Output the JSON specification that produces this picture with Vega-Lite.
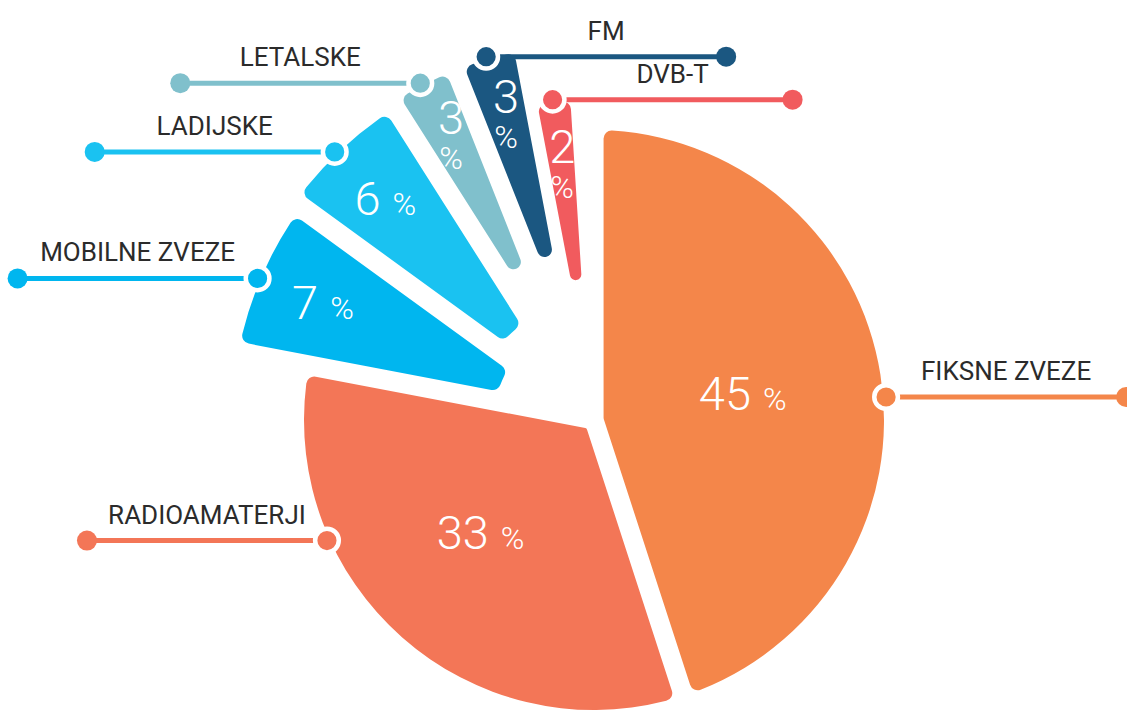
{
  "$schema": "https://vega.github.io/schema/vega-lite/v6.json",
  "width": 1000,
  "height": 560,
  "autosize": {"type": "none"},
  "padding": {"left": 94, "top": 140, "right": 33, "bottom": 11},
  "background": "white",
  "config": {"view": {"stroke": null}},
  "data": {
    "values": [
      {"category": "FIKSNE ZVEZE", "value": 45},
      {"category": "RADIOAMATERJI", "value": 33},
      {"category": "MOBILNE ZVEZE", "value": 7},
      {"category": "LADIJSKE", "value": 6},
      {"category": "LETALSKE", "value": 3},
      {"category": "FM", "value": 3},
      {"category": "DVB-T", "value": 2}
    ]
  },
  "transform": [
    {"stack": "value", "groupby": [], "sort": [{"field": "value", "order": "descending"}, {"field": "category", "order": "descending"}], "as": ["v0", "v1"]},
    {"calculate": "(datum.v0 + datum.v1)/2", "as": "vm"}
  ],
  "layer": [
    {
      "mark": {
        "type": "arc",
        "cornerRadius": 8,
        "padAngle": {"expr": "datum.value >= 33 ? 0.066 : datum.value >= 6 ? 0.055 : datum.value >= 3 ? 0.045 : 0.02"},
        "radius2": {"expr": "datum.value >= 45 ? 9.8 : datum.value >= 33 ? 11.5 : datum.value >= 7 ? 100 : datum.value >= 6 ? 120 : datum.value >= 3 ? 170 : 141"}
      },
      "encoding": {
        "theta": {"field": "v0", "type": "quantitative", "scale": {"domain": [0, 100], "zero": true, "nice": false}},
        "theta2": {"field": "v1"},
        "radius": {"field": "value", "type": "quantitative", "scale": {"type": "linear", "domain": [2, 3, 6, 7, 33, 45], "range": [320, 376, 370, 362, 290, 290], "zero": false, "nice": false}},
        "color": {"field": "category", "type": "nominal", "legend": null, "scale": {"domain": ["FIKSNE ZVEZE", "RADIOAMATERJI", "MOBILNE ZVEZE", "LADIJSKE", "LETALSKE", "FM", "DVB-T"], "range": ["#F4864A", "#F37657", "#00B6EF", "#1AC2F1", "#80C0CC", "#1B5781", "#F15B5E"]}}
      }
    },
    {
      "mark": {
        "type": "text",
        "font": "Roboto",
        "fontWeight": 300,
        "fontSize": 47,
        "color": "white",
        "baseline": "alphabetic",
        "align": {"expr": "datum.value > 3 ? 'right' : 'center'"},
        "dx": {"expr": "datum.value > 3 ? -6 : 0"},
        "dy": {"expr": "datum.value > 3 ? 16 : -5"}
      },
      "encoding": {
        "theta": {"field": "vm", "type": "quantitative", "stack": null, "scale": {"domain": [0, 100], "zero": true, "nice": false}},
        "radius": {"field": "value", "type": "quantitative", "scale": {"type": "linear", "domain": [2, 3, 6, 7, 33, 45], "range": [254, 315, 303, 294, 150, 165], "zero": false, "nice": false}},
        "text": {"field": "value", "type": "quantitative"}
      }
    },
    {
      "mark": {
        "type": "text",
        "font": "Roboto",
        "fontWeight": 300,
        "fontSize": 32,
        "color": "white",
        "baseline": "alphabetic",
        "align": {"expr": "datum.value > 3 ? 'left' : 'center'"},
        "dx": {"expr": "datum.value > 3 ? 6 : 0"},
        "dy": {"expr": "datum.value > 3 ? 16 : 30"}
      },
      "encoding": {
        "theta": {"field": "vm", "type": "quantitative", "stack": null, "scale": {"domain": [0, 100], "zero": true, "nice": false}},
        "radius": {"field": "value", "type": "quantitative", "scale": {"type": "linear", "domain": [2, 3, 6, 7, 33, 45], "range": [254, 315, 303, 294, 150, 165], "zero": false, "nice": false}},
        "text": {"value": "%"}
      }
    },
    {
      "transform": [
        {"calculate": "2*PI*datum.vm/100", "as": "mid"},
        {"calculate": "datum.mid + min(0.5, 5*pow(datum.value/100, 2))*((datum.mid < PI ? PI/2 : 3*PI/2) - datum.mid)", "as": "ang"},
        {"calculate": "(datum.value >= 33 ? 290 : datum.value >= 7 ? 362 : datum.value >= 6 ? 370 : datum.value >= 3 ? 376 : 320) + 3", "as": "r"},
        {"calculate": "datum.r*sin(datum.ang)", "as": "px"},
        {"calculate": "-datum.r*cos(datum.ang)", "as": "py"},
        {"calculate": "sin(datum.mid) > -0.35 ? 1 : -1", "as": "dir"},
        {"calculate": "datum.px + 240*datum.dir", "as": "qx"},
        {"calculate": "datum.px + 120*datum.dir", "as": "lx"}
      ],
      "encoding": {
        "y": {"field": "py", "type": "quantitative", "axis": null, "scale": {"domain": [-280, 280], "reverse": true, "zero": false, "nice": false}}
      },
      "layer": [
        {
          "mark": {"type": "rule", "strokeWidth": 5},
          "encoding": {
            "x": {"field": "px", "type": "quantitative", "axis": null, "scale": {"domain": [-500, 500], "zero": false, "nice": false}},
            "x2": {"field": "qx"},
            "color": {"field": "category", "type": "nominal", "legend": null, "scale": {"domain": ["FIKSNE ZVEZE", "RADIOAMATERJI", "MOBILNE ZVEZE", "LADIJSKE", "LETALSKE", "FM", "DVB-T"], "range": ["#F4864A", "#F37657", "#00B6EF", "#1AC2F1", "#80C0CC", "#1B5781", "#F15B5E"]}}
          }
        },
        {
          "mark": {"type": "point", "filled": true, "size": 400, "opacity": 1},
          "encoding": {
            "x": {"field": "qx", "type": "quantitative", "axis": null, "scale": {"domain": [-500, 500], "zero": false, "nice": false}},
            "color": {"field": "category", "type": "nominal", "legend": null, "scale": {"domain": ["FIKSNE ZVEZE", "RADIOAMATERJI", "MOBILNE ZVEZE", "LADIJSKE", "LETALSKE", "FM", "DVB-T"], "range": ["#F4864A", "#F37657", "#00B6EF", "#1AC2F1", "#80C0CC", "#1B5781", "#F15B5E"]}}
          }
        },
        {
          "mark": {"type": "point", "filled": true, "size": 560, "opacity": 1, "stroke": "white", "strokeWidth": 4.5},
          "encoding": {
            "x": {"field": "px", "type": "quantitative", "axis": null, "scale": {"domain": [-500, 500], "zero": false, "nice": false}},
            "color": {"field": "category", "type": "nominal", "legend": null, "scale": {"domain": ["FIKSNE ZVEZE", "RADIOAMATERJI", "MOBILNE ZVEZE", "LADIJSKE", "LETALSKE", "FM", "DVB-T"], "range": ["#F4864A", "#F37657", "#00B6EF", "#1AC2F1", "#80C0CC", "#1B5781", "#F15B5E"]}}
          }
        },
        {
          "mark": {"type": "text", "font": "Roboto", "fontSize": 26, "color": "#2b2b2b", "baseline": "alphabetic", "align": "center", "dy": -17},
          "encoding": {
            "x": {"field": "lx", "type": "quantitative", "axis": null, "scale": {"domain": [-500, 500], "zero": false, "nice": false}},
            "text": {"field": "category", "type": "nominal"}
          }
        }
      ]
    }
  ],
  "resolve": {"scale": {"radius": "independent"}}
}
